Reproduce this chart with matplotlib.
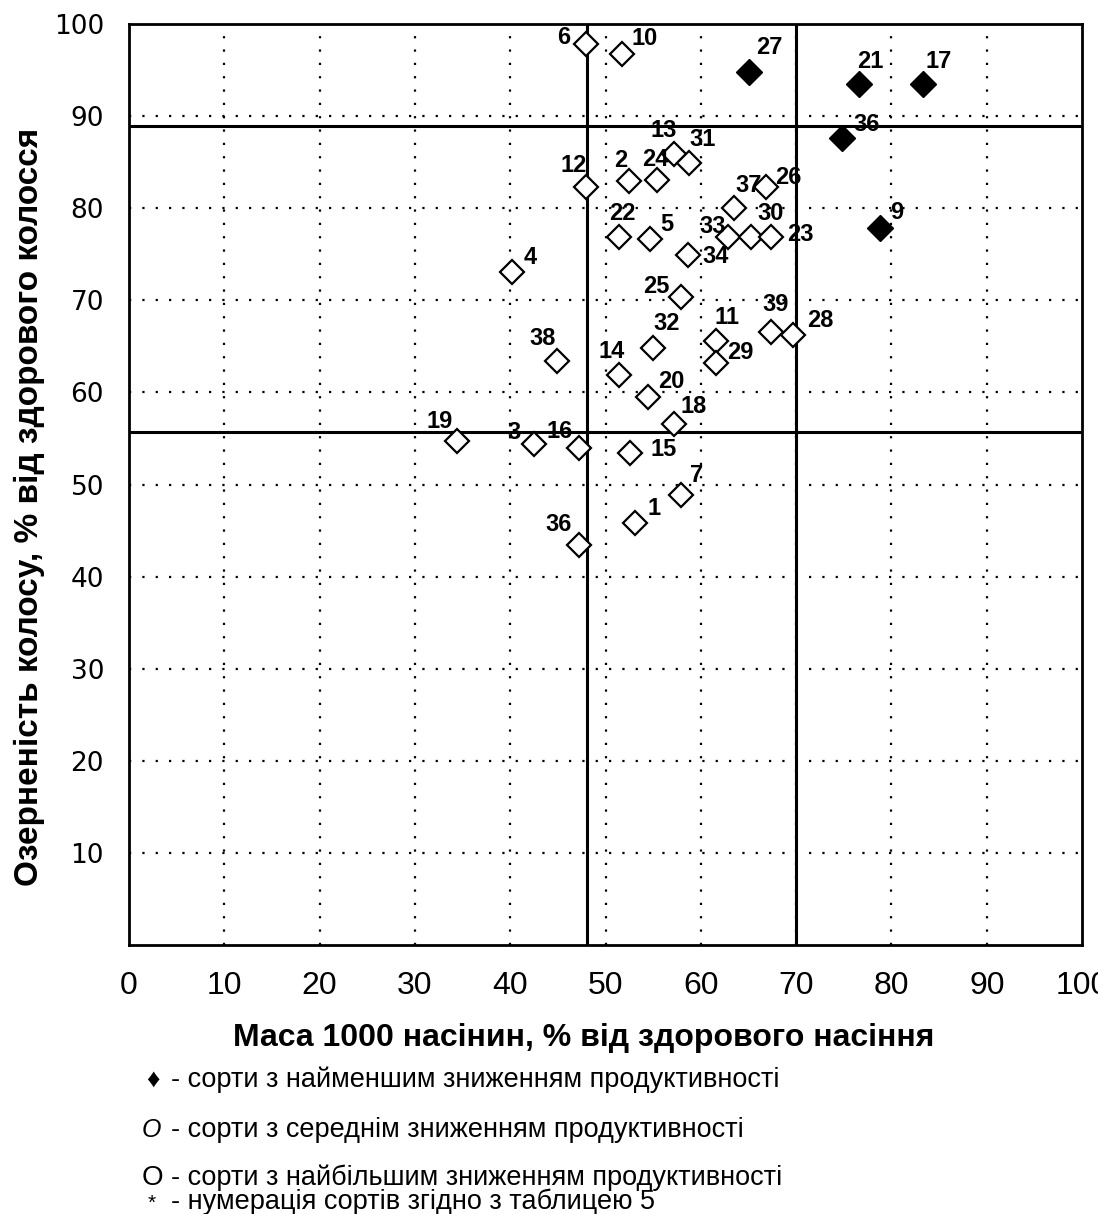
import matplotlib
matplotlib.use('Agg')
import matplotlib.pyplot as plt

# сорти з найменшим зниженням продуктивності (чорні ромби)
best_ids = ['27', '21', '17', '36', '9']
best_mass = [65.1, 76.6, 83.3, 74.8, 78.8]
best_grain = [94.8, 93.5, 93.5, 87.6, 77.9]

# решта сортів (порожні ромби)
other_ids = ['6', '10', '12', '2', '24', '13', '31', '37', '26', '22', '5', '33',
             '30', '23', '34', '4', '25', '39', '28', '11', '29', '32', '38', '14',
             '20', '18', '19', '3', '16', '15', '7', '1', '36']
other_mass = [48.0, 51.7, 48.0, 52.5, 55.4, 57.2, 58.8, 63.5, 66.8, 51.4, 54.7, 62.9,
              65.3, 67.4, 58.7, 40.2, 57.9, 67.4, 69.7, 61.6, 61.6, 55.0, 44.9, 51.4,
              54.5, 57.2, 34.4, 42.5, 47.2, 52.6, 57.9, 53.1, 47.2]
other_grain = [97.8, 96.7, 82.3, 83.0, 83.1, 85.9, 84.9, 80.0, 82.3, 76.9, 76.7, 76.9,
               76.9, 76.9, 74.9, 73.1, 70.4, 66.6, 66.2, 65.6, 63.2, 64.8, 63.4, 61.9,
               59.5, 56.6, 54.7, 54.4, 54.0, 53.4, 48.9, 45.8, 43.4]

# межі груп
x_limits = [48.1, 70.0]
y_limits = [88.9, 55.7]

xticks = [0, 10, 20, 30, 40, 50, 60, 70, 80, 90, 100]
yticks = [10, 20, 30, 40, 50, 60, 70, 80, 90, 100]

# зсув підписів (пікселі) відносно точки
best_off = [(20, 24), (11, 22), (16, 22), (25, 14), (17, 15)]
other_off = [(-23, 7), (23, 16), (-13, 22), (-9, 20), (-2, 20), (-10, 23), (13, 24),
             (14, 23), (23, 10), (3, 23), (16, 14), (-16, 10), (19, 23), (29, 2),
             (27, -1), (18, 14), (-25, 10), (4, 27), (27, 15), (11, 23), (24, 10),
             (13, 25), (-14, 23), (-7, 23), (23, 16), (19, 17), (-17, 20), (-20, 11),
             (-19, 16), (33, 4), (16, 19), (19, 15), (-20, 21)]

fig = plt.figure(figsize=(10.98, 12.14), dpi=100)
ax = fig.add_axes([0.1175, 0.2216, 0.868, 0.7586])

ax.set_xlim(0, 100)
ax.set_ylim(0, 100)
ax.set_xticks(xticks)
ax.set_yticks(yticks)
ax.tick_params(length=0)
ax.tick_params(axis='x', pad=19)
ax.tick_params(axis='y', pad=18)
for lab in ax.get_xticklabels():
    lab.set_fontfamily('Liberation Sans')
    lab.set_fontsize(23)
for lab in ax.get_yticklabels():
    lab.set_fontfamily('DejaVu Sans')
    lab.set_fontsize(19)

for g in xticks[1:-1]:
    ax.axvline(g, color='black', lw=1.6, linestyle=(0, (1, 5)), zorder=1)
for g in yticks[:-1]:
    ax.axhline(g, color='black', lw=1.6, linestyle=(0, (1, 5)), zorder=1)

for v in x_limits:
    ax.axvline(v, color='black', lw=2.2, zorder=2)
for h in y_limits:
    ax.axhline(h, color='black', lw=2.2, zorder=2)

for s in ax.spines.values():
    s.set_linewidth(2)

ax.plot(other_mass, other_grain, 'D', ms=12.5, mfc='white', mec='black',
        mew=1.6, zorder=3)
ax.plot(best_mass, best_grain, 'D', ms=13, mfc='black', mec='black', zorder=3)

for ids, xs, ys, offs in [(best_ids, best_mass, best_grain, best_off),
                          (other_ids, other_mass, other_grain, other_off)]:
    for i, x, y, (dx, dy) in zip(ids, xs, ys, offs):
        ax.annotate(i, (x, y), xytext=(dx * 0.72, dy * 0.72),
                    textcoords='offset points', ha='center', va='center',
                    fontsize=17, fontweight='bold', family='Liberation Sans',
                    zorder=4)

ax.set_xlabel('Маса 1000 насінин, % від здорового насіння', fontsize=23,
              fontweight='bold', family='Liberation Sans', va='center')
ax.set_ylabel('Озерненість колосу, % від здорового колосся', fontsize=24,
              fontweight='bold', family='Liberation Sans', va='center')
ax.xaxis.set_label_coords(0.477, -0.101)
ax.yaxis.set_label_coords(-0.104, 0.476)

# умовні позначення під графіком
legend_marks = [(0.1330, 0.1104, '♦', 'normal', 19),
                (0.1290, 0.0692, 'О', 'italic', 18),
                (0.1290, 0.0297, 'О', 'normal', 20),
                (0.1345, 0.0090, '*', 'normal', 15)]
legend_texts = ['- сорти з найменшим зниженням продуктивності',
                '- сорти з середнім зниженням продуктивності',
                '- сорти з найбільшим зниженням продуктивності',
                '- нумерація сортів згідно з таблицею 5']
legend_y = [0.1104, 0.0692, 0.0297, 0.0099]
for (mx, my, m, st, fs), t, y in zip(legend_marks, legend_texts, legend_y):
    fig.text(mx, my, m, fontsize=fs, style=st,
             family=['Liberation Sans', 'DejaVu Sans'], va='center', ha='left')
    fig.text(0.1560, y, t, fontsize=19.5, family='Liberation Sans',
             va='center', ha='left')

fig.savefig('out.png', dpi=100)
